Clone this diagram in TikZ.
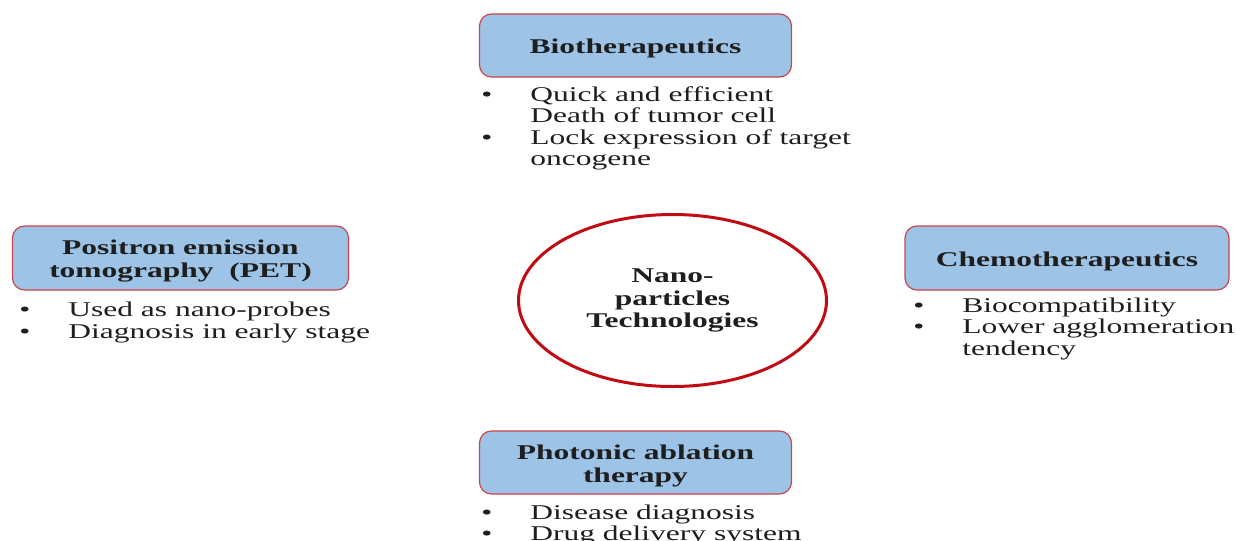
\documentclass[tikz,border=0pt]{standalone}
\usepackage{fontspec}
\setmainfont[FakeStretch=1.5]{Liberation Serif}
\usetikzlibrary{shapes.geometric}
\definecolor{boxfill}{RGB}{157,195,230}
\definecolor{boxline}{RGB}{200,70,75}
\definecolor{ringred}{RGB}{192,10,20}
\definecolor{ink}{RGB}{30,30,30}
\newcommand{\bul}{\makebox[24.5pt][l]{\textbullet}}
\newcommand{\cont}{\hspace*{24.5pt}}
\newcommand{\tp}{\rule{0pt}{10.3pt}}% pushes the title a bit lower in its box

\begin{document}
\begin{tikzpicture}[x=0.5pt,y=-0.5pt,line join=round,
  every node/.style={text=ink},
  topic/.style={draw=boxline,fill=boxfill,line width=0.6pt,rounded corners=6pt,
    inner sep=0pt,align=center,font=\fontsize{10.5}{11.5}\selectfont\bfseries},
  items/.style={anchor=north west,inner sep=0pt,align=left,
    font=\fontsize{10.5}{10.75}\selectfont}]
\useasboundingbox (0,0) rectangle (1238,541);

%keskus
\node [draw=ringred,line width=1.5pt,ellipse,minimum width=154pt,minimum height=86pt,
  inner sep=0pt,align=center,font=\fontsize{10.5}{11.25}\selectfont\bfseries]
  (nano) at (672.5,300.5) {Nano-\\particles\\Technologies};

%ylhaalla
\node [topic,minimum width=156pt,minimum height=31.5pt] (bio) at (635.5,45.5) {\tp Biotherapeutics};
\node [items] (bio-list) at (481,86) {\bul Quick and efficient\\\cont Death of tumor cell\\
  \bul Lock expression of target\\\cont oncogene};

%vasemmalla
\node [topic,minimum width=168pt,minimum height=32pt] (pet) at (180.5,258) {\tp Positron emission\\tomography\ \ (PET)};
\node [items] (pet-list) at (19,302) {\bul Used as nano-probes\\\bul Diagnosis in early stage};

%oikealla
\node [topic,minimum width=162pt,minimum height=32pt] (chemo) at (1067,258) {\tp Chemotherapeutics};
\node [items] (chemo-list) at (913,297.5) {\bul Biocompatibility\\\bul Lower agglomeration\\
  \cont tendency};

%alhaalla
\node [topic,minimum width=156pt,minimum height=31.5pt] (photo) at (635.5,462.5) {\tp Photonic ablation\\therapy};
\node [items] (photo-list) at (481,504.5) {\bul Disease diagnosis\\\bul Drug delivery system};
\end{tikzpicture}
\end{document}
